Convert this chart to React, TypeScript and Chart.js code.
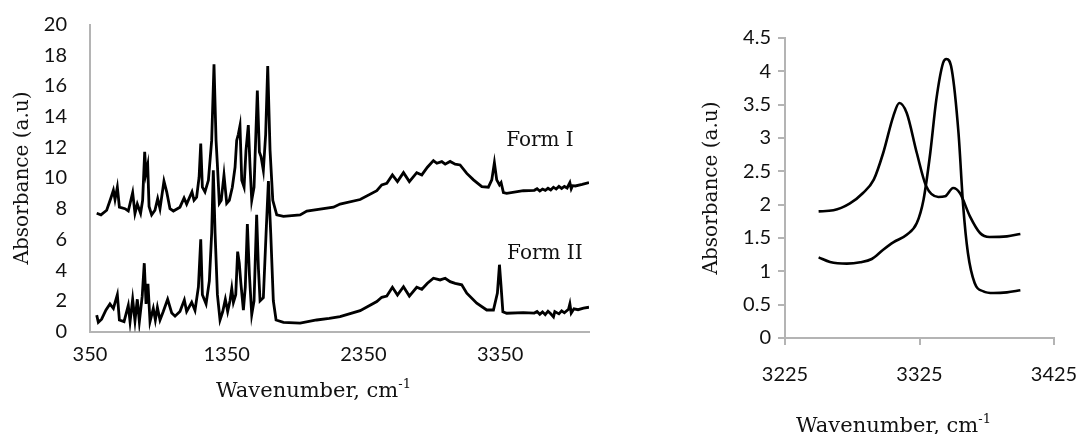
import { useEffect, useRef } from "react";
import { Chart, registerables } from "chart.js";

Chart.register(...registerables);

// ---------- Left panel: full spectra ----------
const FORM1_WN = [399, 430, 472, 501, 521, 533, 550, 565, 606, 630, 662, 679, 696, 720, 735, 750, 759, 772, 782, 801, 825, 845, 862, 891, 911, 935, 960, 1008, 1038, 1057, 1096, 1111, 1130, 1148, 1160, 1172, 1191, 1216, 1240, 1257, 1272, 1281, 1296, 1310, 1330, 1350, 1369, 1391, 1411, 1423, 1435, 1447, 1460, 1477, 1491, 1508, 1521, 1533, 1550, 1574, 1589, 1601, 1618, 1635, 1650, 1667, 1687, 1716, 1765, 1887, 1936, 2131, 2179, 2326, 2448, 2484, 2521, 2562, 2599, 2643, 2686, 2740, 2777, 2818, 2862, 2887, 2923, 2948, 2984, 3021, 3057, 3106, 3155, 3216, 3264, 3289, 3308, 3325, 3345, 3357, 3374, 3398, 3520, 3600, 3620, 3640, 3660, 3680, 3700, 3720, 3740, 3760, 3780, 3800, 3820, 3840, 3860, 3870, 3880, 3900, 3950, 4000];
const FORM1_ABS = [7.7, 7.6, 7.9, 8.65, 9.2, 8.6, 9.4, 8.1, 8.0, 7.85, 9.05, 7.7, 8.3, 7.7, 8.55, 11.7, 10.3, 10.85, 8.15, 7.6, 7.9, 8.65, 8.0, 9.8, 9.1, 8.0, 7.85, 8.1, 8.7, 8.3, 9.1, 8.55, 8.75, 10.05, 12.25, 9.4, 9.1, 9.85, 12.45, 17.4, 12.45, 11.0, 8.35, 8.55, 10.2, 8.35, 8.55, 9.4, 10.7, 12.45, 12.85, 13.4, 9.85, 9.4, 11.8, 13.45, 10.7, 8.55, 9.4, 15.7, 11.7, 11.4, 10.5, 12.85, 17.3, 11.8, 8.55, 7.6, 7.5, 7.6, 7.85, 8.1, 8.3, 8.6, 9.17, 9.55, 9.66, 10.2, 9.77, 10.35, 9.77, 10.35, 10.2, 10.7, 11.13, 10.96, 11.07, 10.9, 11.08, 10.9, 10.85, 10.3, 9.88, 9.44, 9.4, 9.88, 11.0, 9.88, 9.55, 9.7, 9.05, 9.0, 9.17, 9.2, 9.3, 9.15, 9.28, 9.2, 9.33, 9.22, 9.4, 9.28, 9.45, 9.32, 9.45, 9.35, 9.7, 9.3, 9.5, 9.48, 9.58, 9.7];

const FORM2_WN = [399, 411, 435, 467, 496, 521, 550, 565, 599, 630, 643, 662, 679, 696, 711, 732, 747, 760, 774, 789, 813, 828, 843, 862, 886, 918, 948, 972, 1008, 1040, 1057, 1094, 1118, 1143, 1160, 1172, 1199, 1223, 1240, 1252, 1265, 1282, 1301, 1321, 1340, 1357, 1374, 1387, 1399, 1416, 1430, 1442, 1453, 1472, 1486, 1501, 1516, 1533, 1550, 1569, 1582, 1594, 1618, 1638, 1655, 1672, 1691, 1711, 1765, 1887, 2008, 2100, 2179, 2326, 2448, 2484, 2521, 2562, 2599, 2643, 2686, 2740, 2777, 2818, 2862, 2911, 2948, 2984, 3021, 3069, 3106, 3179, 3252, 3301, 3330, 3345, 3357, 3370, 3398, 3520, 3600, 3620, 3640, 3660, 3680, 3700, 3720, 3740, 3750, 3780, 3800, 3820, 3850, 3860, 3870, 3890, 3920, 3960, 4000];
const FORM2_ABS = [1.07, 0.6, 0.8, 1.4, 1.8, 1.5, 2.4, 0.75, 0.64, 1.7, 0.64, 2.1, 0.7, 2.1, 0.64, 2.3, 4.45, 1.8, 3.1, 0.64, 1.5, 0.75, 1.57, 0.75, 1.3, 2.1, 1.2, 1.0, 1.3, 2.05, 1.3, 1.9, 1.37, 2.9, 6.0, 2.4, 1.8, 3.3, 6.4, 10.5, 6.4, 2.4, 0.75, 1.3, 2.1, 1.3, 2.0, 2.8, 1.9, 2.4, 5.2, 4.45, 3.2, 1.4, 2.9, 7.0, 3.7, 1.1, 2.0, 7.6, 4.1, 2.0, 2.2, 6.4, 9.8, 6.4, 2.0, 0.75, 0.6, 0.55, 0.75, 0.85, 0.97, 1.36, 1.95, 2.23, 2.31, 2.88, 2.38, 2.92, 2.31, 2.88, 2.75, 3.14, 3.47, 3.36, 3.47, 3.25, 3.14, 3.04, 2.5, 1.84, 1.4, 1.4, 2.5, 4.35, 2.92, 1.29, 1.19, 1.23, 1.2, 1.3, 1.12, 1.28, 1.1, 1.32, 1.15, 0.95, 1.3, 1.15, 1.35, 1.22, 1.45, 1.8, 1.2, 1.48, 1.42, 1.52, 1.58];

const LEFT_X_TICKS = [350, 1350, 2350, 3350];
const LEFT_Y_TICKS = [0, 2, 4, 6, 8, 10, 12, 14, 16, 18, 20];
const SERIES_NAMES = ["Form I", "Form II"];
// anchor points (data units) of the in-plot series labels
const SERIES_LABEL_AT = [
  { x: 3394, y: 12.1 },
  { x: 3401, y: 4.7 },
];

// ---------- Right panel: N-H region ----------
const ZOOM1_WN = [3250, 3261, 3273, 3283, 3291, 3298, 3305.5, 3310, 3315.5, 3323, 3330, 3339, 3344, 3350, 3355, 3362.5, 3370, 3377, 3390, 3400];
const ZOOM1_ABS = [1.9, 1.915, 2.015, 2.175, 2.375, 2.775, 3.325, 3.525, 3.375, 2.775, 2.275, 2.115, 2.125, 2.25, 2.175, 1.825, 1.575, 1.515, 1.525, 1.56];
const ZOOM2_WN = [3250, 3258.5, 3271, 3281, 3289.5, 3298, 3305.5, 3315.5, 3323, 3328, 3333, 3337.5, 3342.5, 3345, 3349, 3354, 3357.5, 3361, 3366, 3372.5, 3380, 3390, 3400];
const ZOOM2_ABS = [1.21, 1.14, 1.115, 1.135, 1.185, 1.325, 1.435, 1.55, 1.725, 2.075, 2.775, 3.575, 4.125, 4.185, 4.025, 3.075, 1.975, 1.275, 0.825, 0.7, 0.675, 0.685, 0.715];

const RIGHT_X_TICKS = [3225, 3325, 3425];
const RIGHT_Y_TICKS = [0, 0.5, 1, 1.5, 2, 2.5, 3, 3.5, 4, 4.5];

const X_TITLE = "Wavenumber, cm";
const X_TITLE_SUP = "-1";
const Y_TITLE = "Absorbance (a.u)";

const AXIS_GRAY = "#b4b4b4";
const TICK_FONT = { family: "Lato", size: 20 };
const SERIF = '"DejaVu Serif"';

const pts = (xs: number[], ys: number[]) => xs.map((x, i) => ({ x, y: ys[i] }));

function xTitlePlugin(dx: number, baselineBelow: number) {
  return {
    id: "xTitleSup",
    afterDraw(chart: any) {
      const { ctx, chartArea } = chart;
      ctx.save();
      ctx.fillStyle = "#111";
      ctx.textBaseline = "alphabetic";
      ctx.textAlign = "left";
      const mainFont = `21px ${SERIF}`;
      const supFont = `13px ${SERIF}`;
      ctx.font = mainFont;
      const w1 = ctx.measureText(X_TITLE).width;
      ctx.font = supFont;
      const w2 = ctx.measureText(X_TITLE_SUP).width;
      const cx = (chartArea.left + chartArea.right) / 2 + dx;
      const x0 = cx - (w1 + w2) / 2;
      const y = chartArea.bottom + baselineBelow;
      ctx.font = mainFont;
      ctx.fillText(X_TITLE, x0, y);
      ctx.font = supFont;
      ctx.fillText(X_TITLE_SUP, x0 + w1, y - 9);
      ctx.restore();
    },
  };
}

const seriesLabelPlugin = {
  id: "seriesLabels",
  afterDatasetsDraw(chart: any) {
    const { ctx, scales } = chart;
    ctx.save();
    ctx.fillStyle = "#111";
    ctx.font = `20px ${SERIF}`;
    ctx.textAlign = "left";
    ctx.textBaseline = "alphabetic";
    SERIES_NAMES.forEach((name, i) => {
      const p = SERIES_LABEL_AT[i];
      ctx.fillText(name, scales.x.getPixelForValue(p.x), scales.y.getPixelForValue(p.y));
    });
    ctx.restore();
  },
};

const setTicks = (vals: number[]) => (scale: any) => {
  scale.ticks = vals.map((v) => ({ value: v }));
};

export default function App() {
  const leftRef = useRef<HTMLCanvasElement | null>(null);
  const rightRef = useRef<HTMLCanvasElement | null>(null);

  useEffect(() => {
    document.body.style.margin = "0";
    const lineDs = (label: string, data: any[], tension: number, width: number) => ({
      label,
      data,
      borderColor: "#000",
      borderWidth: width,
      pointRadius: 0,
      fill: false,
      tension,
      cubicInterpolationMode: tension > 0 ? "monotone" : "default",
    });

    const left = new Chart(leftRef.current as HTMLCanvasElement, {
      type: "line",
      data: {
        datasets: [
          lineDs(SERIES_NAMES[0], pts(FORM1_WN, FORM1_ABS), 0, 2.8),
          lineDs(SERIES_NAMES[1], pts(FORM2_WN, FORM2_ABS), 0, 2.8),
        ] as any,
      },
      options: {
        responsive: false,
        animation: false,
        layout: { padding: { left: 0, top: 24.5, right: 51, bottom: 0 } },
        plugins: { legend: { display: false }, tooltip: { enabled: false } },
        scales: {
          x: {
            type: "linear",
            min: 350,
            max: 4000,
            afterBuildTicks: setTicks(LEFT_X_TICKS),
            afterFit: (s: any) => { s.height = 102.5; },
            grid: { display: false, tickLength: 8 },
            border: { display: true, color: AXIS_GRAY, width: 2 },
            ticks: { font: TICK_FONT, color: "#111", padding: 3.5, maxRotation: 0, autoSkip: false, callback: (v: any) => String(v) },
          },
          y: {
            min: 0,
            max: 20,
            afterBuildTicks: setTicks(LEFT_Y_TICKS),
            afterFit: (s: any) => { s.width = 90; },
            grid: { display: false, tickLength: 20 },
            border: { display: true, color: AXIS_GRAY, width: 2 },
            ticks: { font: TICK_FONT, color: "#111", padding: 3, callback: (v: any) => String(v) },
            title: { display: true, text: Y_TITLE, color: "#111", font: { family: "DejaVu Serif", size: 20 }, padding: { top: 11, bottom: 0 } },
          },
        },
      } as any,
      plugins: [xTitlePlugin(-26, 65.5), seriesLabelPlugin],
    });

    const right = new Chart(rightRef.current as HTMLCanvasElement, {
      type: "line",
      data: {
        datasets: [
          lineDs("Form I", pts(ZOOM1_WN, ZOOM1_ABS), 0.4, 2.6),
          lineDs("Form II", pts(ZOOM2_WN, ZOOM2_ABS), 0.4, 2.6),
        ] as any,
      },
      options: {
        responsive: false,
        animation: false,
        layout: { padding: { left: 0, top: 38, right: 60, bottom: 0 } },
        plugins: { legend: { display: false }, tooltip: { enabled: false } },
        scales: {
          x: {
            type: "linear",
            min: 3225,
            max: 3425,
            afterBuildTicks: setTicks(RIGHT_X_TICKS),
            afterFit: (s: any) => { s.height = 96; },
            grid: { display: true, drawOnChartArea: false, drawTicks: true, tickLength: 7, color: AXIS_GRAY, lineWidth: 2 },
            border: { display: true, color: AXIS_GRAY, width: 2 },
            ticks: { font: TICK_FONT, color: "#111", padding: 18, maxRotation: 0, autoSkip: false, callback: (v: any) => String(v) },
          },
          y: {
            min: 0,
            max: 4.5,
            afterBuildTicks: setTicks(RIGHT_Y_TICKS),
            afterFit: (s: any) => { s.width = 125; },
            grid: { display: true, drawOnChartArea: false, drawTicks: true, tickLength: 7, color: AXIS_GRAY, lineWidth: 2 },
            border: { display: true, color: AXIS_GRAY, width: 2 },
            ticks: { font: TICK_FONT, color: "#111", padding: 7, callback: (v: any) => String(v) },
            title: { display: true, text: Y_TITLE, color: "#111", font: { family: "DejaVu Serif", size: 20 }, padding: { top: 40, bottom: 0 } },
          },
        },
      } as any,
      plugins: [xTitlePlugin(-26, 94)],
    });

    return () => {
      left.destroy();
      right.destroy();
    };
  }, []);

  return (
    <div style={{ position: "fixed", left: 0, top: 0, width: 1083, height: 434, background: "#fff", overflow: "hidden" }}>
      <canvas ref={leftRef} width={640} height={434} style={{ position: "absolute", left: 0, top: 0 }} />
      <canvas ref={rightRef} width={454} height={434} style={{ position: "absolute", left: 660, top: 0 }} />
    </div>
  );
}
